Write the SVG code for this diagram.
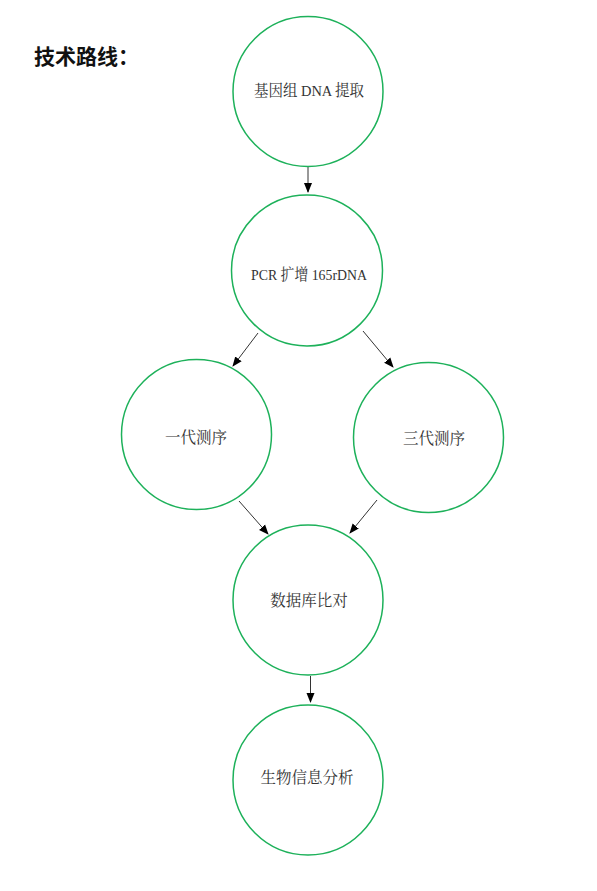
<svg xmlns="http://www.w3.org/2000/svg" width="597" height="891" viewBox="0 0 597 891">
<style>
.n{fill:#fff;stroke:#1db15a;stroke-width:1.5}
.t{font-family:"Liberation Serif","Noto Serif CJK SC","Noto Sans CJK SC",serif;font-size:15.5px;fill:#333;text-anchor:middle}
.c{stroke:#333;stroke-width:1;fill:none;marker-end:url(#ah)}
.title{font-family:"Liberation Sans","Noto Sans CJK SC",sans-serif;font-size:21px;font-weight:bold;fill:#111}
</style>
<defs>
<marker id="ah" markerWidth="10" markerHeight="10" refX="9" refY="5" orient="auto" markerUnits="userSpaceOnUse">
<path d="M0,1 L10,5 L0,9 Z" fill="#000"/>
</marker>
</defs>
<rect width="597" height="891" fill="#fff"/>
<text class="title" x="34" y="64">技术路线：</text>
<g id="connectors">
<line class="c" x1="308" y1="166" x2="308" y2="192"/>
<line class="c" x1="258" y1="333" x2="233" y2="366"/>
<line class="c" x1="363" y1="331" x2="393" y2="367"/>
<line class="c" x1="239" y1="501" x2="268" y2="534"/>
<line class="c" x1="377" y1="500" x2="350" y2="533"/>
<line class="c" x1="310.5" y1="676" x2="310.5" y2="702"/>
</g>
<g id="n1"><circle class="n" cx="308" cy="91.5" r="75"/><text class="t" x="309" y="96" textLength="110" lengthAdjust="spacingAndGlyphs">基因组 DNA 提取</text></g>
<g id="n2"><circle class="n" cx="307" cy="270.5" r="75.5"/><text class="t" x="309" y="280" textLength="116" lengthAdjust="spacingAndGlyphs">PCR 扩增 165rDNA</text></g>
<g id="n3"><circle class="n" cx="196.5" cy="434.5" r="75"/><text class="t" x="196" y="443">一代测序</text></g>
<g id="n4"><circle class="n" cx="428.5" cy="437.5" r="75"/><text class="t" x="434" y="444">三代测序</text></g>
<g id="n5"><circle class="n" cx="308" cy="600" r="75"/><text class="t" x="309" y="606">数据库比对</text></g>
<g id="n6"><circle class="n" cx="308" cy="780" r="75"/><text class="t" x="307" y="783">生物信息分析</text></g>
</svg>
